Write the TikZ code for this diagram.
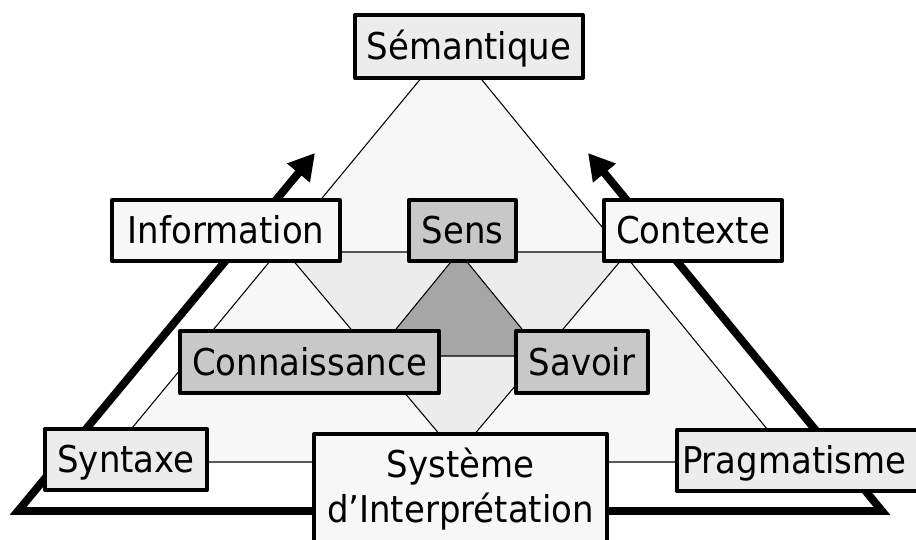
\documentclass[tikz,border=0pt]{standalone}
\usepackage{fontspec}
\setmainfont{DejaVu Sans}[FakeStretch=0.92]
\usetikzlibrary{arrows.meta}
\definecolor{paleGray}{HTML}{F7F7F7}
\definecolor{lightGray}{HTML}{ECECEC}
\definecolor{boxGray}{HTML}{C8C8C8}
\definecolor{coreGray}{HTML}{A6A6A6}

\begin{document}
\begin{tikzpicture}[x=0.02cm, y=0.02cm]
\tikzstyle{every node}+=[inner sep=0pt]
\tikzstyle{box}=[draw=black, line width=2.3pt, line join=round, rectangle, font=\fontsize{21}{25.6}\selectfont, text height=15.3pt, text depth=0pt]
\tikzstyle{edge}=[black, line width=0.6pt]
\tikzstyle{flow}=[black, line width=4.5pt, {Triangle[length=0.52cm,width=0.56cm]}-{Triangle[length=0.52cm,width=0.56cm]}]
\clip (0,0) rectangle (916,-539);
% big triangle
\coordinate (top) at (451,-42);
\coordinate (left) at (104,-462);
\coordinate (right) at (794,-462);
\filldraw [edge, fill=paleGray] (top) -- (left) -- (right) -- cycle;
% middle triangle
\coordinate (midL) at (286,-252);
\coordinate (midR) at (628,-252);
\coordinate (midB) at (457,-455);
\filldraw [edge, fill=lightGray] (midL) -- (midR) -- (midB) -- cycle;
% core
\coordinate (inT) at (459,-252);
\coordinate (inL) at (374,-356);
\coordinate (inR) at (544,-356);
\filldraw [edge, fill=coreGray] (inT) -- (inL) -- (inR) -- cycle;
% thick arrow
\coordinate (tipL) at (315,-153);
\coordinate (cornerL) at (18,-511);
\coordinate (cornerR) at (882,-511);
\coordinate (tipR) at (588,-153);
\draw [flow] (tipL) -- (cornerL) -- (cornerR) -- (tipR);
% boxes
\node [box, fill=lightGray, minimum width=4.56cm, minimum height=1.26cm] (sem) at (469,-46.5) {Sémantique};
\node [box, fill=paleGray, minimum width=4.56cm, minimum height=1.22cm] (info) at (226,-230.5) {Information};
\node [box, fill=boxGray, minimum width=2.14cm, minimum height=1.22cm] (sens) at (462.5,-230.5) {Sens};
\node [box, fill=paleGray, minimum width=3.56cm, minimum height=1.22cm] (ctx) at (693,-230.5) {Contexte};
\node [box, fill=boxGray, minimum width=5.18cm, minimum height=1.24cm] (conn) at (309.5,-362) {Connaissance};
\node [box, fill=boxGray, minimum width=2.64cm, minimum height=1.24cm] (sav) at (582,-362) {Savoir};
\node [box, fill=lightGray, minimum width=3.24cm, minimum height=1.22cm] (syn) at (126,-459.5) {Syntaxe};
\node [box, fill=lightGray, minimum width=4.9cm, minimum height=1.22cm, anchor=west] (prag) at (675,-460.5) {\hspace*{-6pt}Pragmatisme};
\node [box, fill=paleGray, minimum width=5.86cm, minimum height=2.2cm, align=center, text height={}, text depth={}] (sys) at (460.5,-489) {Système\\d’Interprétation};
\end{tikzpicture}
\end{document}
